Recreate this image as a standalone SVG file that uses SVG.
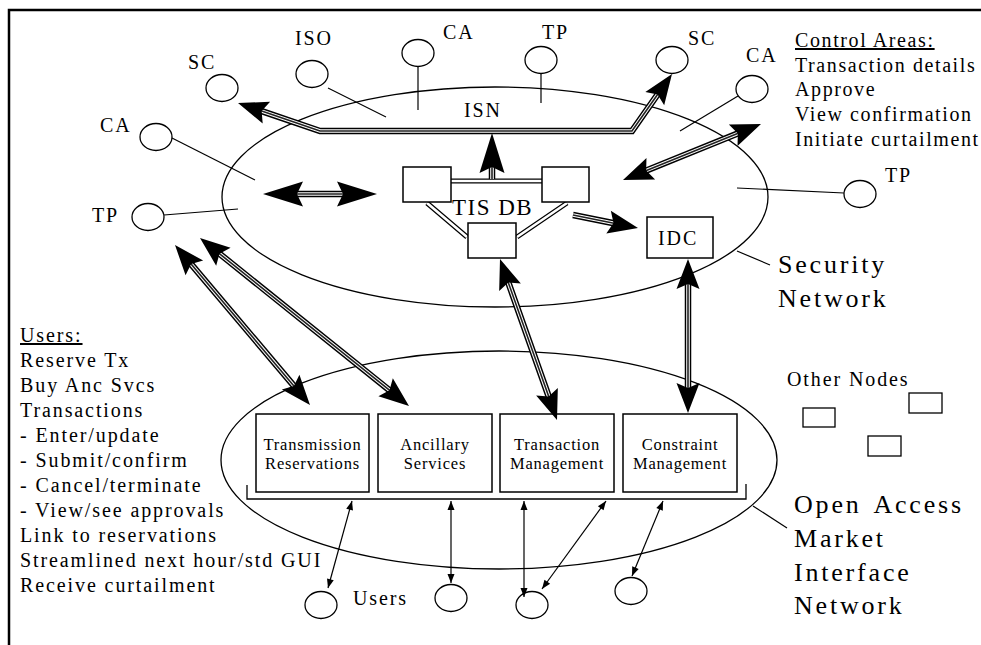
<svg xmlns="http://www.w3.org/2000/svg" width="981" height="645" viewBox="0 0 981 645">
  <defs>
    <style>
      text { font-family: "Liberation Serif", "Times New Roman", serif; fill: #000; }
      .lbl { font-size: 20px; letter-spacing: 1.9px; }
      .ctl { letter-spacing: 1.6px; }
      .bt { font-size: 16.5px; letter-spacing: 0.8px; text-anchor: middle; }
      .big { font-size: 26px; letter-spacing: 2.8px; word-spacing: 4px; }
      .ul { text-decoration: underline; }
      .frame { fill: none; stroke: #000; stroke-width: 2.5; }
      .net { fill: none; stroke: #000; stroke-width: 1.3; }
      .node { fill: #fff; stroke: #000; stroke-width: 1.3; }
      .box { fill: #fff; stroke: #000; stroke-width: 1.5; }
      .thin { fill: none; stroke: #000; stroke-width: 1.2; }
      .s1 { fill: none; stroke: #000; stroke-width: 6.5; stroke-linejoin: miter; }
      .s2 { fill: none; stroke: #fff; stroke-width: 3.6; stroke-linejoin: miter; }
      .s3 { fill: none; stroke: #222; stroke-width: 1.6; stroke-linejoin: miter; }
      .h1 { fill: #000; stroke: #000; stroke-width: 5; }
      .h2 { fill: none; stroke: #fff; stroke-width: 2.6; }
      .hd2 { fill: none; stroke: none; marker-start: url(#head); marker-end: url(#head); }
      .hd1 { fill: none; stroke: none; marker-end: url(#head); }
      .hdL2 { fill: none; stroke: none; marker-start: url(#headL); marker-end: url(#headL); }
      .hdL1 { fill: none; stroke: none; marker-end: url(#headL); }
      .ua { fill: none; stroke: #000; stroke-width: 1.2; marker-start: url(#tip); marker-end: url(#tip); }
    </style>
    <marker id="head" markerUnits="userSpaceOnUse" viewBox="-32 -13 34 26" markerWidth="34" markerHeight="26" refX="0" refY="0" orient="auto-start-reverse">
      <path d="M0,0 L-30,-11.5 L-25,0 L-30,11.5 Z" fill="#000"/>
    </marker>
    <marker id="headL" markerUnits="userSpaceOnUse" viewBox="-42 -14 44 28" markerWidth="44" markerHeight="28" refX="0" refY="0" orient="auto-start-reverse">
      <path d="M0,0 L-40,-12.5 L-34,0 L-40,12.5 Z" fill="#000"/>
    </marker>
    <marker id="tip" markerUnits="userSpaceOnUse" viewBox="-10 -5 11 10" markerWidth="11" markerHeight="10" refX="0" refY="0" orient="auto-start-reverse">
      <path d="M0,0 L-9,-3.5 L-9,3.5 Z" fill="#000"/>
    </marker>
    <path id="a1" d="M295,194 L345,194"/>
    <path id="a2" d="M492,163 L492,179"/>
    <path id="a3" d="M258.8,110.1 L320,131 L632,131 L659.3,92"/>
    <path id="a4" d="M643.4,171.7 L740.6,132.3"/>
    <path id="a5" d="M573,215 L616.4,223.7"/>
    <path id="a6" d="M688,281 L688,391"/>
    <path id="a7" d="M507.3,279.7 L549.7,399.3"/>
    <path id="a8" d="M189.2,261.8 L295.8,388.2"/>
    <path id="a9" d="M217.1,251.8 L391.9,392.2"/>
  </defs>

  <rect width="981" height="645" fill="#fff"/>
  <!-- page frame (open to the right and bottom) -->
  <path class="frame" d="M9,645 L9,10 L981,10"/>

  <!-- network ellipses -->
  <g id="security-network">
    <ellipse class="net" cx="495" cy="197" rx="273" ry="110"/>
    <line class="thin" x1="737" y1="251" x2="770" y2="265"/>
    <text class="big" x="778" y="273">Security</text>
    <text class="big" x="778" y="307">Network</text>
  </g>
  <g id="open-access-network">
    <ellipse class="net" cx="499" cy="460" rx="278" ry="109"/>
    <line class="thin" x1="753" y1="506" x2="787" y2="528"/>
    <text class="big" x="794" y="513">Open Access</text>
    <text class="big" x="794" y="547">Market</text>
    <text class="big" x="794" y="581">Interface</text>
    <text class="big" x="794" y="614">Network</text>
  </g>

  <!-- participant stubs into the security network -->
  <g id="stub-lines">
    <line class="thin" x1="328" y1="88" x2="386" y2="117"/>
    <line class="thin" x1="418" y1="66" x2="418" y2="110"/>
    <line class="thin" x1="541" y1="73" x2="541" y2="103"/>
    <line class="thin" x1="738" y1="96" x2="680" y2="131"/>
    <line class="thin" x1="172" y1="138" x2="255" y2="180"/>
    <line class="thin" x1="164" y1="215" x2="238" y2="209"/>
    <line class="thin" x1="737" y1="188" x2="844" y2="193"/>
  </g>

  <!-- TIS DB triangle links -->
  <g id="tis-links">
    <path class="h1" d="M451,181 L542,181 M427,203 L467,237 M567,203 L517,237"/>
    <path class="h2" d="M451,181 L542,181 M427,203 L467,237 M567,203 L517,237"/>
  </g>

  <g id="sc-left"><ellipse class="node" cx="222" cy="88" rx="16" ry="13.5"/><text class="lbl" x="188" y="69">SC</text></g>
  <g id="iso"><ellipse class="node" cx="312" cy="74" rx="16" ry="13.5"/><text class="lbl" x="295" y="45">ISO</text></g>
  <g id="ca-top"><ellipse class="node" cx="418" cy="53" rx="16" ry="13.5"/><text class="lbl" x="443" y="39">CA</text></g>
  <g id="tp-top"><ellipse class="node" cx="541" cy="60" rx="16" ry="13.5"/><text class="lbl" x="542" y="39">TP</text></g>
  <g id="sc-right"><ellipse class="node" cx="672" cy="60" rx="16" ry="13.5"/><text class="lbl" x="688" y="45">SC</text></g>
  <g id="ca-right"><ellipse class="node" cx="752" cy="89" rx="16" ry="13.5"/><text class="lbl" x="746" y="62">CA</text></g>
  <g id="ca-left"><ellipse class="node" cx="156" cy="137" rx="16" ry="13.5"/><text class="lbl" x="100" y="132">CA</text></g>
  <g id="tp-left"><ellipse class="node" cx="148" cy="217" rx="16" ry="13.5"/><text class="lbl" x="92" y="222">TP</text></g>
  <g id="tp-right"><ellipse class="node" cx="860" cy="194" rx="16" ry="13.5"/><text class="lbl" x="885" y="182">TP</text></g>
  <g id="isn"><text class="lbl" x="464" y="117">ISN</text></g>

  <g id="tis-db">
    <rect class="box" x="403" y="167" width="48" height="35"/>
    <rect class="box" x="542" y="167" width="47" height="35"/>
    <rect class="box" x="468" y="223" width="48" height="35"/>
    <text x="452" y="215" style="font-size:23px;letter-spacing:1.5px">TIS DB</text>
  </g>
  <g id="idc">
    <rect class="box" x="647" y="217" width="66" height="41"/>
    <text class="lbl" x="658" y="245">IDC</text>
  </g>

  <!-- market interface services -->
  <g id="transmission-reservations">
    <rect class="box" x="256" y="414" width="113" height="78"/>
    <text class="bt" x="312.5" y="450">Transmission</text>
    <text class="bt" x="312.5" y="469">Reservations</text>
  </g>
  <g id="ancillary-services">
    <rect class="box" x="378" y="414" width="114" height="78"/>
    <text class="bt" x="435" y="450">Ancillary</text>
    <text class="bt" x="435" y="469">Services</text>
  </g>
  <g id="transaction-management">
    <rect class="box" x="500" y="414" width="114" height="78"/>
    <text class="bt" x="557" y="450">Transaction</text>
    <text class="bt" x="557" y="469">Management</text>
  </g>
  <g id="constraint-management">
    <rect class="box" x="623" y="414" width="114" height="78"/>
    <text class="bt" x="680" y="450">Constraint</text>
    <text class="bt" x="680" y="469">Management</text>
  </g>
  <path id="service-bracket" class="net" d="M247,485 L247,499 L746,499 L746,484"/>

  <!-- users -->
  <g id="user-1"><ellipse class="node" cx="321" cy="605" rx="16" ry="13.5"/></g>
  <g id="user-2"><ellipse class="node" cx="451" cy="598" rx="16" ry="13.5"/></g>
  <g id="user-3"><ellipse class="node" cx="532" cy="605" rx="16" ry="13.5"/></g>
  <g id="user-4"><ellipse class="node" cx="631" cy="591" rx="16" ry="13.5"/></g>
  <text class="lbl" x="353" y="605">Users</text>

  <!-- other nodes -->
  <g id="other-nodes">
    <text class="lbl" x="787" y="386">Other Nodes</text>
    <rect class="net" x="803" y="408" width="32" height="19"/>
    <rect class="net" x="909" y="393" width="33" height="20"/>
    <rect class="net" x="868" y="436" width="33" height="20"/>
  </g>

  <!-- connectors -->
  <g id="connectors">
    <g id="user-links">
      <path class="ua" d="M352,501 L328,588"/>
      <path class="ua" d="M451,501 L451,583"/>
      <path class="ua" d="M524,501 L524,597"/>
      <path class="ua" d="M606,501 L542,589"/>
      <path class="ua" d="M663,501 L632,576"/>
    </g>
    <g id="heavy-shafts">
      <use href="#a1" class="s1"/><use href="#a1" class="s2"/><use href="#a1" class="s3"/>
      <use href="#a2" class="s1"/><use href="#a2" class="s2"/><use href="#a2" class="s3"/>
      <use href="#a3" class="s1"/><use href="#a3" class="s2"/><use href="#a3" class="s3"/>
      <use href="#a4" class="s1"/><use href="#a4" class="s2"/><use href="#a4" class="s3"/>
      <use href="#a5" class="s1"/><use href="#a5" class="s2"/><use href="#a5" class="s3"/>
      <use href="#a6" class="s1"/><use href="#a6" class="s2"/><use href="#a6" class="s3"/>
      <use href="#a7" class="s1"/><use href="#a7" class="s2"/><use href="#a7" class="s3"/>
      <use href="#a8" class="s1"/><use href="#a8" class="s2"/><use href="#a8" class="s3"/>
      <use href="#a9" class="s1"/><use href="#a9" class="s2"/><use href="#a9" class="s3"/>
    </g>
    <g id="heavy-heads">
      <path class="hdL2" d="M263,194 L377,194"/>
      <path class="hdL1" d="M492,179 L492,133"/>
      <path class="hd2" d="M238,103 L320,131 L632,131 L672,74"/>
      <path class="hd2" d="M623,180 L761,124"/>
      <path class="hd1" d="M573,215 L638,228"/>
      <path class="hd2" d="M688,259 L688,413"/>
      <path class="hd2" d="M500,259 L557,420"/>
      <path class="hd2" d="M175,245 L310,405"/>
      <path class="hd2" d="M200,238 L409,406"/>
    </g>
  </g>

  <!-- role lists -->
  <g id="control-areas-list" class="lbl ctl">
    <text x="795" y="47" class="ul">Control Areas:</text>
    <text x="795" y="72">Transaction details</text>
    <text x="795" y="96">Approve</text>
    <text x="795" y="121">View confirmation</text>
    <text x="795" y="146">Initiate curtailment</text>
  </g>
  <g id="users-list" class="lbl">
    <text x="20" y="342" class="ul">Users:</text>
    <text x="20" y="367">Reserve Tx</text>
    <text x="20" y="392">Buy Anc Svcs</text>
    <text x="20" y="417">Transactions</text>
    <text x="20" y="442">- Enter/update</text>
    <text x="20" y="467">- Submit/confirm</text>
    <text x="20" y="492">- Cancel/terminate</text>
    <text x="20" y="517">- View/see approvals</text>
    <text x="20" y="542">Link to reservations</text>
    <text x="20" y="567">Streamlined next hour/std GUI</text>
    <text x="20" y="592">Receive curtailment</text>
  </g>
</svg>
